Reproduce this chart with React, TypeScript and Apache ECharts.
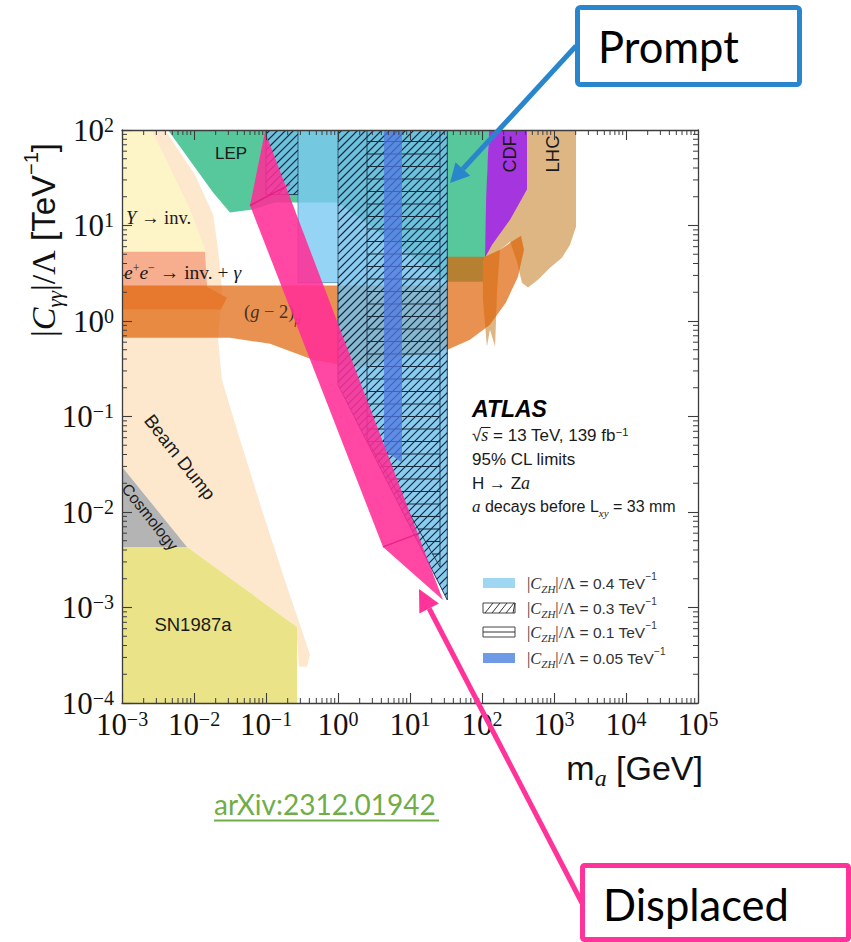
import React, { useEffect, useRef } from "react";
import * as echarts from "echarts";

type Pt = [number, number];

const W = 851;
const H = 942;

// axis ranges
const massRange: Pt = [1e-3, 1e5];
const couplingRange: Pt = [1e-4, 1e2];

// Existing exclusion regions, vertices as [m_a (GeV), |C_γγ|/Λ (TeV^-1)]
const beamDump: Pt[] = [
  [0.001, 100], [0.00396, 100], [0.0103, 34], [0.0184, 13], [0.0216, 5.6], [0.0245, 2.1],
  [0.0216, 0.64], [0.0245, 0.24], [0.0436, 0.057], [0.088, 0.0105], [0.184, 0.0019],
  [0.297, 0.00066], [0.408, 0.00032], [0.371, 0.00024], [0.287, 0.00024], [0.27, 0.00046],
  [0.27, 0.000625], [0.008, 0.0043], [0.001, 0.03],
];
const upsilonInv: Pt[] = [[0.001, 100], [0.0026, 100], [0.0088, 14.7], [0.0142, 5.6], [0.0142, 2.1], [0.001, 2.1]];
const eeInvGamma: Pt[] = [[0.001, 5.3], [0.0142, 5.3], [0.0152, 2.29], [0.0287, 1.75], [0.0237, 1.32], [0.001, 1.32]];
const lep: Pt[] = [
  [0.00435, 100], [125, 100], [117, 18.7], [110, 2.58], [33, 2.58], [1, 17.4], [0.133, 17.4],
  [0.066, 14.7], [0.0316, 13.7], [0.0184, 22.1],
];
const cdf: Pt[] = [[125, 100], [422, 100], [422, 23.8], [245, 11.5], [138, 6.3], [110, 4.6], [114, 18.7]];
const lhc: Pt[] = [
  [422, 100], [2020, 100], [2020, 9.7], [1670, 6.3], [1290, 4.6], [880, 3.6], [600, 2.7], [435, 2.24],
  [359, 2.52], [306, 4.18], [245, 6.78], [178, 5.58], [162, 2.13], [152, 0.54], [129, 0.81], [117, 0.54],
  [103, 1.67], [103, 4.18], [129, 7.11], [208, 10.2], [422, 23.8],
];
const gMinus2: Pt[] = [
  [0.001, 2.35], [33, 2.35], [33, 4.72], [110, 4.72], [178, 5.58], [261, 6.78], [348, 7.83], [383, 5.58],
  [316, 2.91], [215, 1.56], [129, 0.915], [68, 0.637], [33, 0.5], [7.26, 0.422], [1.84, 0.324],
  [0.45, 0.393], [0.114, 0.578], [0.0316, 0.668], [0.001, 0.668],
];
const cosmology: Pt[] = [[0.001, 0.0297], [0.008, 0.00431], [0.001, 0.00431]];
const sn1987a: Pt[] = [[0.001, 0.00431], [0.008, 0.00431], [0.27, 0.000625], [0.27, 0.0001], [0.001, 0.0001]];

// H -> Za limits for several |C_ZH|/Λ values
const czh04: Pt[] = [[0.1, 100], [33, 100], [33, 0.0012], [1, 0.215], [1, 2.52], [0.278, 2.52], [0.278, 21.1], [0.1, 21.1]];
const czh03Low: Pt[] = [[0.1, 100], [0.278, 100], [0.278, 21.1], [0.1, 21.1]];
const czh03High: Pt[] = [[1, 100], [33, 100], [33, 0.0012], [1, 0.215]];
const czh01: Pt[] = [[2.53, 100], [26.1, 100], [26.1, 0.00266], [2.53, 0.057]];
const czh005: Pt[] = [[4.35, 100], [7.74, 100], [7.74, 0.0327], [4.35, 0.0448]];

// displaced-decay sliver and its inner folds
const displaced: Pt[] = [[0.0968, 96.4], [28.7, 0.0012], [4.22, 0.00431], [0.06, 16.2]];
const displacedFolds: [Pt, Pt][] = [
  [[0.06, 16.2], [0.215, 26.9]],
  [[4.22, 0.00431], [13.8, 0.00604]],
];

const legendCouplings = ["0.4", "0.3", "0.1", "0.05"];

const SERIF = "'Liberation Serif', 'DejaVu Serif', serif";
const SANS = "'Liberation Sans', 'DejaVu Sans', sans-serif";
const SLIDE = "Lato, 'Open Sans', sans-serif";

const AXIS_COLOR = "#3c3c3c";

// ---------- geometry helpers ----------
function clipLine(p0: number[], d: number[], poly: number[][]): number[][] | null {
  const ts: number[] = [];
  for (let i = 0; i < poly.length; i++) {
    const a = poly[i];
    const b = poly[(i + 1) % poly.length];
    const e = [b[0] - a[0], b[1] - a[1]];
    const den = d[0] * e[1] - d[1] * e[0];
    if (Math.abs(den) < 1e-9) continue;
    const w = [a[0] - p0[0], a[1] - p0[1]];
    const t = (w[0] * e[1] - w[1] * e[0]) / den;
    const s = (w[0] * d[1] - w[1] * d[0]) / den;
    if (s >= -1e-9 && s <= 1 + 1e-9) ts.push(t);
  }
  if (ts.length < 2) return null;
  const t0 = Math.min(...ts);
  const t1 = Math.max(...ts);
  if (t1 - t0 < 0.5) return null;
  return [
    [p0[0] + d[0] * t0, p0[1] + d[1] * t0],
    [p0[0] + d[0] * t1, p0[1] + d[1] * t1],
  ];
}

function hatchSegments(pix: number[][], kind: "diag" | "horiz"): number[][][] {
  const xs = pix.map((p) => p[0]);
  const ys = pix.map((p) => p[1]);
  const minX = Math.min(...xs), maxX = Math.max(...xs);
  const minY = Math.min(...ys), maxY = Math.max(...ys);
  const out: number[][][] = [];
  if (kind === "diag") {
    const step = 8;
    const c0 = Math.floor((minX + minY) / step) * step;
    for (let c = c0; c <= maxX + maxY; c += step) {
      const seg = clipLine([c, 0], [1, -1], pix);
      if (seg) out.push(seg);
    }
  } else {
    const step = 12.5;
    for (let c = minY + 11.5; c < maxY; c += step) {
      const seg = clipLine([0, c], [1, 0], pix);
      if (seg) out.push(seg);
    }
  }
  return out;
}

function region(pts: Pt[], style: any, opts: { z?: number; hatch?: "diag" | "horiz"; lineColor?: string } = {}) {
  return {
    type: "custom",
    coordinateSystem: "cartesian2d",
    xAxisIndex: 0,
    yAxisIndex: 0,
    silent: true,
    clip: true,
    z: opts.z ?? 2,
    data: pts,
    encode: { x: 0, y: 1 },
    renderItem: (params: any, api: any) => {
      if (params.dataIndex !== 0) return null;
      const pix = pts.map((p) => api.coord(p));
      const children: any[] = [{ type: "polygon", shape: { points: pix }, style }];
      if (opts.hatch) {
        for (const s of hatchSegments(pix, opts.hatch)) {
          children.push({
            type: "line",
            shape: { x1: s[0][0], y1: s[0][1], x2: s[1][0], y2: s[1][1] },
            style: { stroke: opts.lineColor ?? "#15253b", lineWidth: 1.1 },
          });
        }
      }
      return { type: "group", children };
    },
  };
}

function minorTickValues(lo: number, hi: number): number[] {
  const vals: number[] = [];
  for (let e = Math.round(Math.log10(lo)); e < Math.round(Math.log10(hi)); e++) {
    for (let k = 2; k <= 9; k++) vals.push(k * Math.pow(10, e));
  }
  return vals;
}

const expLabel = (v: number) => {
  const e = Math.round(Math.log10(v));
  return `{b|10}{e|${e < 0 ? "\u2212" + -e : e}}`;
};

const tickRich = {
  b: { fontFamily: SERIF, fontSize: 31, color: "#111" },
  e: { fontFamily: SERIF, fontSize: 20, color: "#111", verticalAlign: "top", lineHeight: 14 },
};

function buildOption() {
  const axisCommon = {
    type: "log",
    logBase: 10,
    axisLine: { show: true, lineStyle: { color: AXIS_COLOR, width: 1.3 } },
    axisTick: { show: true, inside: true, length: 10, interval: 0, lineStyle: { color: AXIS_COLOR, width: 1.1 } },
    splitLine: { show: false },
    minorTick: { show: false },
    z: 20,
  };

  const tickStyle = { stroke: AXIS_COLOR, lineWidth: 1 };

  const minorX = {
    type: "custom",
    coordinateSystem: "cartesian2d",
    silent: true,
    z: 20,
    data: minorTickValues(massRange[0], massRange[1]).map((v) => [v, couplingRange[0]]),
    renderItem: (_p: any, api: any) => {
      const v = api.value(0);
      const b = api.coord([v, couplingRange[0]]);
      const t = api.coord([v, couplingRange[1]]);
      return {
        type: "group",
        children: [
          { type: "line", shape: { x1: b[0], y1: b[1], x2: b[0], y2: b[1] - 5 }, style: tickStyle },
          { type: "line", shape: { x1: t[0], y1: t[1], x2: t[0], y2: t[1] + 5 }, style: tickStyle },
        ],
      };
    },
  };
  const minorY = {
    type: "custom",
    coordinateSystem: "cartesian2d",
    silent: true,
    z: 20,
    data: minorTickValues(couplingRange[0], couplingRange[1]).map((v) => [massRange[0], v]),
    renderItem: (_p: any, api: any) => {
      const v = api.value(1);
      const l = api.coord([massRange[0], v]);
      const r = api.coord([massRange[1], v]);
      return {
        type: "group",
        children: [
          { type: "line", shape: { x1: l[0], y1: l[1], x2: l[0] + 5, y2: l[1] }, style: tickStyle },
          { type: "line", shape: { x1: r[0], y1: r[1], x2: r[0] - 5, y2: r[1] }, style: tickStyle },
        ],
      };
    },
  };

  const pinkFill = "rgba(255,45,150,0.88)";
  const displacedSeries = {
    type: "custom",
    coordinateSystem: "cartesian2d",
    silent: true,
    clip: true,
    z: 5,
    data: displaced,
    renderItem: (params: any, api: any) => {
      if (params.dataIndex !== 0) return null;
      const pix = displaced.map((p) => api.coord(p));
      const children: any[] = [{ type: "polygon", shape: { points: pix }, style: { fill: pinkFill } }];
      for (const [a, b] of displacedFolds) {
        const pa = api.coord(a);
        const pb = api.coord(b);
        children.push({
          type: "line",
          shape: { x1: pa[0], y1: pa[1], x2: pb[0], y2: pb[1] },
          style: { stroke: "rgba(225,20,120,0.7)", lineWidth: 1.5 },
        });
      }
      return { type: "group", children };
    },
  };

  const series = [
    region(beamDump, { fill: "#fde8cd" }),
    region(upsilonInv, { fill: "#fdf5c7" }),
    region(eeInvGamma, { fill: "#f7ae8e" }),
    region(lep, { fill: "#57c79c" }),
    region(lhc, { fill: "#deb683" }),
    region(cdf, { fill: "#a536df" }),
    region(gMinus2, { fill: "rgba(222,98,5,0.7)" }),
    region(cosmology, { fill: "#b4b4b4" }),
    region(sn1987a, { fill: "#ebe387" }),
    region(czh04, { fill: "rgba(124,201,242,0.8)", stroke: "rgba(40,90,130,0.5)", lineWidth: 1 }, { z: 3 }),
    region(czh03Low, { fill: "rgba(60,150,200,0.12)", stroke: "rgba(25,45,75,0.7)", lineWidth: 1 }, { z: 3, hatch: "diag" }),
    region(czh03High, { fill: "rgba(60,150,200,0.12)", stroke: "rgba(25,45,75,0.7)", lineWidth: 1 }, { z: 3, hatch: "diag" }),
    region(czh01, { fill: "none", stroke: "rgba(20,35,55,0.8)", lineWidth: 1 }, { z: 3, hatch: "horiz", lineColor: "#1b2a3c" }),
    region(czh005, { fill: "rgba(80,120,225,0.75)" }, { z: 3 }),
    displacedSeries,
    minorX,
    minorY,
  ];

  const txt = (x: number, y: number, text: string, extra: any = {}, rotation = 0, z = 4) => ({
    type: "text",
    x,
    y,
    rotation,
    z,
    silent: true,
    style: {
      text,
      fontFamily: SANS,
      fontSize: 17,
      fill: "#1a1a1a",
      align: "center",
      verticalAlign: "middle",
      ...extra,
    },
  });

  const serifRich = (size: number, color = "#1a1a1a") => ({
    r: { fontFamily: SERIF, fontSize: size, fill: color },
    i: { fontFamily: SERIF, fontStyle: "italic", fontSize: size, fill: color },
    sp: { fontFamily: SERIF, fontSize: size * 0.62, fill: color, verticalAlign: "top", lineHeight: size * 0.45 },
    sb: { fontFamily: SERIF, fontStyle: "italic", fontSize: size * 0.62, fill: color, verticalAlign: "bottom", lineHeight: size * 1.5 },
  });

  const ink = "#1a1a1a";
  const labelRich = {
    t: { fontFamily: SANS, fontSize: 17, fill: ink },
    i: { fontFamily: SERIF, fontStyle: "italic", fontSize: 18, fill: ink },
    sup: { fontFamily: SANS, fontSize: 11, fill: ink, verticalAlign: "top", lineHeight: 8 },
    sub: { fontFamily: SERIF, fontStyle: "italic", fontSize: 11, fill: ink, verticalAlign: "bottom", lineHeight: 25 },
  };

  const legendInk = "#333";
  const legendRich = {
    v: { fontFamily: SERIF, fontSize: 16.5, fill: legendInk },
    c: { fontFamily: SERIF, fontStyle: "italic", fontSize: 16.5, fill: legendInk },
    sub: { fontFamily: SERIF, fontStyle: "italic", fontSize: 11, fill: legendInk, verticalAlign: "bottom", lineHeight: 23 },
    t: { fontFamily: SANS, fontSize: 15.5, fill: legendInk },
    sup: { fontFamily: SANS, fontSize: 10, fill: legendInk, verticalAlign: "top", lineHeight: 6 },
  };

  const legendRows = [583, 608, 632, 658];
  const legendEls: any[] = [];
  legendCouplings.forEach((val, i) => {
    const cy = legendRows[i];
    const x = 483, w = 32, h = 10;
    if (i === 0) {
      legendEls.push({ type: "rect", z: 4, shape: { x, y: cy - h / 2, width: w, height: h }, style: { fill: "#9fd6f2" } });
    } else if (i === 1) {
      legendEls.push({ type: "rect", z: 4, shape: { x, y: cy - h / 2, width: w, height: h }, style: { fill: "#fff", stroke: "#444", lineWidth: 1 } });
      for (let k = 0; k < 5; k++) {
        const x0 = x + 2 + k * 7;
        legendEls.push({ type: "line", z: 4, shape: { x1: x0, y1: cy + h / 2, x2: Math.min(x0 + 8, x + w), y2: cy - h / 2 }, style: { stroke: "#333", lineWidth: 1 } });
      }
    } else if (i === 2) {
      legendEls.push({ type: "rect", z: 4, shape: { x, y: cy - h / 2, width: w, height: h }, style: { fill: "#fff", stroke: "#444", lineWidth: 1 } });
      legendEls.push({ type: "line", z: 4, shape: { x1: x, y1: cy, x2: x + w, y2: cy }, style: { stroke: "#333", lineWidth: 1 } });
    } else {
      legendEls.push({ type: "rect", z: 4, shape: { x, y: cy - h / 2, width: w, height: h }, style: { fill: "#6f9ae6" } });
    }
    legendEls.push(
      txt(527, cy, `{v||}{c|C}{sub|ZH}{v||/Λ}{t| = ${val} TeV}{sup|\u22121}`, { align: "left", rich: legendRich })
    );
  });

  const blue = "#2A86CC";
  const pink = "#FF3399";

  const arrow = (sx: number, sy: number, tx: number, ty: number, color: string, len: number, half: number) => {
    const dx = tx - sx, dy = ty - sy;
    const L = Math.hypot(dx, dy);
    const ux = dx / L, uy = dy / L;
    const bx = tx - ux * len, by = ty - uy * len;
    const px = -uy, py = ux;
    return [
      { type: "line", z: 30, shape: { x1: sx, y1: sy, x2: bx, y2: by }, style: { stroke: color, lineWidth: 5 } },
      {
        type: "polygon",
        z: 30,
        shape: { points: [[tx, ty], [bx + px * half, by + py * half], [bx - px * half, by - py * half]] },
        style: { fill: color },
      },
    ];
  };

  const graphics: any[] = [
    // region labels
    txt(231, 153, "LEP", { fontSize: 17 }),
    txt(510, 154, "CDF", { fontSize: 18 }, Math.PI / 2),
    txt(552, 154, "LHC", { fontSize: 18.5 }, Math.PI / 2),
    txt(126, 218, "{i|Υ}{r| → inv.}", { align: "left", rich: serifRich(18.5) }),
    txt(124, 272, "{i|e}{sp|+}{i|e}{sp|\u2212}{r| → inv. + }{i|γ}", { align: "left", rich: serifRich(19.5) }),
    txt(244, 312, "{r|(}{i|g}{r| \u2212 2)}{sb|μ}", { align: "left", rich: serifRich(18.5, "#4a3020") }),
    txt(180, 457, "Beam Dump", { fontSize: 18.5 }, -0.905),
    txt(150, 517, "Cosmology", { fontSize: 16 }, -0.9),
    txt(193, 624, "SN1987a", { fontSize: 18.5 }),
    // experiment block
    txt(472, 409, "ATLAS", { align: "left", fontSize: 23, fontWeight: "bold", fontStyle: "italic", fill: "#000" }),
    txt(472, 435, "{t|√}{i|s}{t| = 13 TeV, 139 fb}{sup|\u22121}", { align: "left", rich: labelRich }),
    { type: "line", z: 4, shape: { x1: 481, y1: 427.5, x2: 490.5, y2: 427.5 }, style: { stroke: ink, lineWidth: 1 } },
    txt(472, 459, "{t|95% CL limits}", { align: "left", rich: labelRich }),
    txt(472, 483, "{t|H → Z}{i|a}", { align: "left", rich: labelRich }),
    txt(472, 506, "{i|a}{t| decays before L}{sub|xy}{t| = 33 mm}", {
      align: "left",
      rich: {
        ...labelRich,
        t: { fontFamily: SANS, fontSize: 16, fill: ink },
        i: { fontFamily: SERIF, fontStyle: "italic", fontSize: 17, fill: ink },
      },
    }),
    ...legendEls,
    // axis titles
    txt(43, 240, "{p||}{c|C}{sub|γγ}{p||/Λ}{s| [TeV}{sup|\u22121}{s|]}", {
      rich: {
        p: { fontFamily: SERIF, fontSize: 34, fill: "#111" },
        c: { fontFamily: SERIF, fontStyle: "italic", fontSize: 34, fill: "#111" },
        sub: { fontFamily: SERIF, fontStyle: "italic", fontSize: 21, fill: "#111", verticalAlign: "bottom", lineHeight: 44 },
        s: { fontFamily: SANS, fontSize: 33, fill: "#111" },
        sup: { fontFamily: SANS, fontSize: 20, fill: "#111", verticalAlign: "top", lineHeight: 12 },
      },
    }, Math.PI / 2),
    txt(703, 768, "{s|m}{sub|a}{s| [GeV]}", {
      align: "right",
      rich: {
        s: { fontFamily: SANS, fontSize: 34, fill: "#111" },
        sub: { fontFamily: SERIF, fontStyle: "italic", fontSize: 24, fill: "#111", verticalAlign: "bottom", lineHeight: 44 },
      },
    }),
    // slide annotations
    { type: "rect", z: 30, shape: { x: 577.5, y: 7.5, width: 222, height: 77, r: 3 }, style: { fill: "#fff", stroke: blue, lineWidth: 5 } },
    txt(598, 46, "Prompt", { align: "left", fontFamily: SLIDE, fontSize: 43.5, fill: "#000" }, 0, 31),
    ...arrow(576, 46, 450, 183, blue, 19, 10),
    { type: "rect", z: 30, shape: { x: 582.5, y: 865.5, width: 266, height: 74, r: 2 }, style: { fill: "#fff", stroke: pink, lineWidth: 5 } },
    txt(603, 904, "Displaced", { align: "left", fontFamily: SLIDE, fontSize: 43.5, fill: "#000" }, 0, 31),
    ...arrow(582, 903, 419, 589, pink, 22, 11),
    txt(214, 804, "arXiv:2312.01942", { align: "left", fontFamily: SLIDE, fontSize: 28, fill: "#70AD47" }, 0, 31),
    { type: "line", z: 31, shape: { x1: 214, y1: 820.5, x2: 439, y2: 820.5 }, style: { stroke: "#70AD47", lineWidth: 2 } },
  ];

  return {
    animation: false,
    backgroundColor: "#ffffff",
    grid: { left: 122, top: 130, right: W - 698, bottom: H - 703, containLabel: false, outerBoundsMode: "none" },
    xAxis: [
      {
        ...axisCommon,
        position: "bottom",
        min: massRange[0],
        max: massRange[1],
        axisLabel: { show: true, interval: 0, margin: 6, formatter: expLabel, rich: tickRich, showMinLabel: true, showMaxLabel: true },
      },
      { ...axisCommon, position: "top", min: massRange[0], max: massRange[1], axisLabel: { show: false } },
    ],
    yAxis: [
      {
        ...axisCommon,
        position: "left",
        min: couplingRange[0],
        max: couplingRange[1],
        axisLabel: { show: true, interval: 0, margin: 8, formatter: expLabel, rich: tickRich, showMinLabel: true, showMaxLabel: true },
      },
      { ...axisCommon, position: "right", min: couplingRange[0], max: couplingRange[1], axisLabel: { show: false } },
    ],
    series,
    graphic: { elements: graphics },
  };
}

export default function App() {
  const ref = useRef<HTMLDivElement>(null);
  useEffect(() => {
    document.body.style.margin = "0";
    if (!ref.current) return;
    const chart = echarts.init(ref.current, null, { renderer: "svg", width: W, height: H });
    chart.setOption(buildOption() as any);
    return () => chart.dispose();
  }, []);
  return <div ref={ref} style={{ width: W, height: H }} />;
}
